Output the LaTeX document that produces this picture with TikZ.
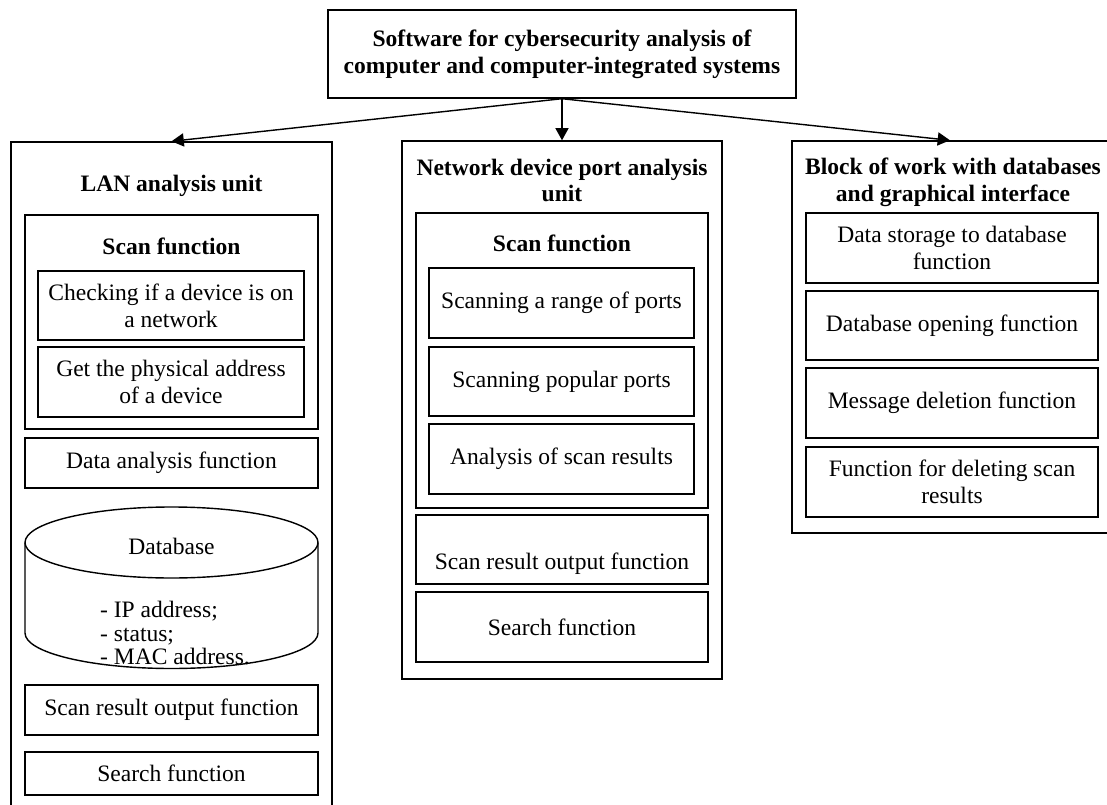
\documentclass[tikz,border=0pt]{standalone}
\usepackage{fontspec}
\setmainfont{Liberation Serif}
\usetikzlibrary{arrows.meta}

\begin{document}
\begin{tikzpicture}[x=0.02cm, y=-0.02cm, line width=0.8pt,
    every node/.style={font=\fontsize{13.4}{15.3}\selectfont, align=center, inner sep=0pt},
    box/.style 2 args={draw, minimum width=#1*0.02cm, minimum height=#2*0.02cm},
    hdr/.style={font=\fontsize{13.4}{15.3}\selectfont\bfseries}]
    \useasboundingbox (0,0) rectangle (1107,805);
    % top
    \node[box={468}{88}, hdr] (top) at (562,54) {Software for cybersecurity analysis of\\computer and computer-integrated systems};
    % LAN unit
    \node[box={321}{670}] (lan) at (171.5,477) {};
    \node[hdr] (lantitle) at (171.5,186) {LAN analysis unit};
    \node[box={293}{214}] (lanscan) at (171.5,322) {};
    \node[hdr] (lanscantitle) at (171.5,246) {Scan function};
    \node[box={266}{69}] (check) at (171,305.5) {Checking if a device is on\\a network};
    \node[box={266}{70}] (getmac) at (171,382) {Get the physical address\\of a device};
    \node[box={293}{50}] (datan) at (171.5,463) {Data analysis function};
    % database
    \draw (171.5,542.5) ellipse [x radius=146.5, y radius=35.5];
    \draw (25,542.5) -- (25,633) arc[start angle=180, end angle=0, x radius=146.5, y radius=35.5] -- (318,542.5);
    \node (dbname) at (171.5,546) {Database};
    \node[align=left, font=\fontsize{13.4}{13.6}\selectfont] (dbfields) at (175,633) {- IP address;\\- status;\\- MAC address.};
    \node[box={293}{50}] (lanout) at (171.5,710) {Scan result output function};
    \node[box={293}{43}] (lansearch) at (171.5,773.5) {Search function};
    % port unit
    \node[box={320}{538}] (ndp) at (562,410) {};
    \node[hdr] (ndptitle) at (562,180.5) {Network device port analysis\\unit};
    \node[box={292}{295}] (ndpscan) at (562,360.5) {};
    \node[hdr] (ndpscantitle) at (562,243) {Scan function};
    \node[box={265}{70}] (range) at (561.5,303) {Scanning a range of ports};
    \node[box={265}{69}] (popular) at (561.5,381.5) {Scanning popular ports};
    \node[box={265}{70}] (analysis) at (561.5,459) {Analysis of scan results};
    \node[box={292}{69}] (ndpout) at (562,549.5) {\strut\\Scan result output function};
    \node[box={292}{70}] (ndpsearch) at (562,627) {Search function};
    % database block
    \node[box={316}{392}] (gui) at (950,337) {};
    \node[hdr] (guititle) at (953,182) {Block of work with databases\\and graphical interface};
    \node[box={292}{70}] (store) at (952,248) {Data storage to database\\function};
    \node[box={292}{69}] (open) at (952,325.5) {Database opening function};
    \node[box={292}{70}] (msgdel) at (952,403) {Message deletion function};
    \node[box={292}{70}] (scandel) at (952,482) {Function for deleting scan\\results};
    % arrows
    \foreach \b in {lan,ndp,gui} \draw[-{Triangle[length=7pt,width=7.5pt]}] (top.south) -- (\b.north);
\end{tikzpicture}
\end{document}
